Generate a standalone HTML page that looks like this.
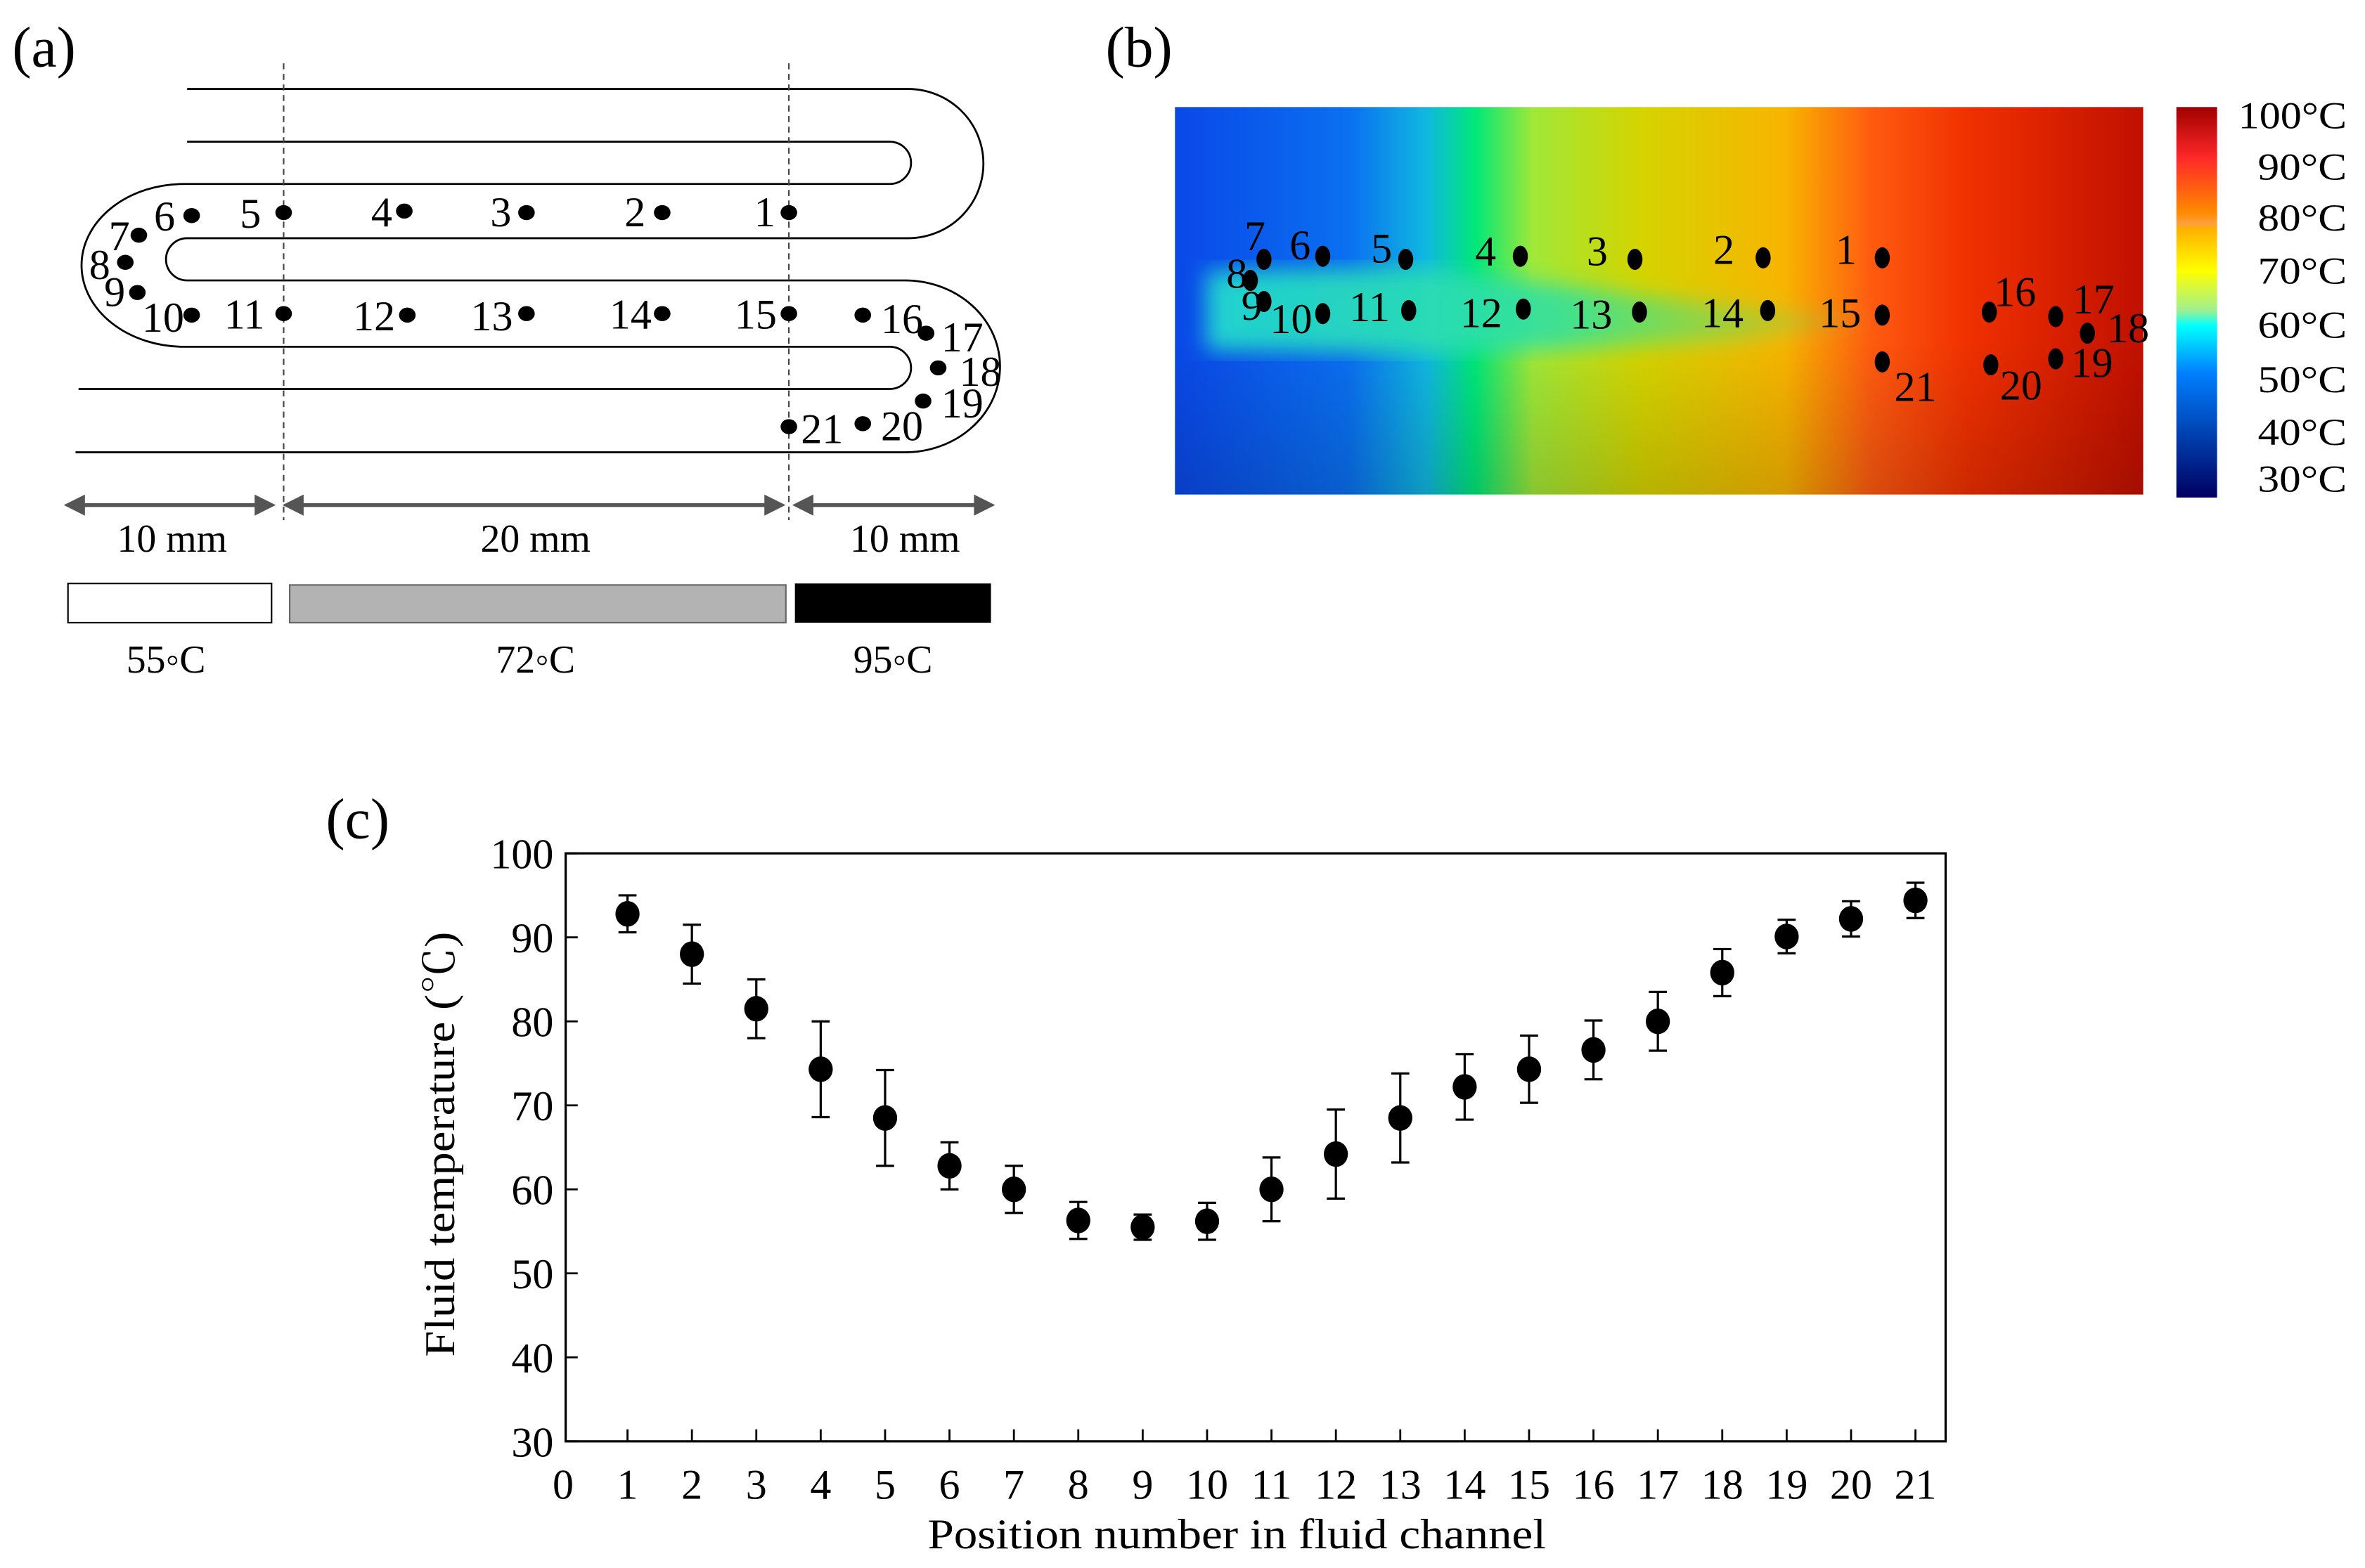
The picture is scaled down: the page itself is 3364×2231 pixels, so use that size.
<!DOCTYPE html>
<html><head><meta charset="utf-8"><style>
html,body{margin:0;padding:0;background:#fff}
svg{display:block;font-family:"Liberation Serif",serif}
</style></head><body>
<svg id="fig" width="3364" height="2231" viewBox="0 0 1568 1040" xmlns="http://www.w3.org/2000/svg">
<defs>
<linearGradient id="hx" x1="0" y1="0" x2="1" y2="0">
<stop offset="0" stop-color="#0a48e8"/><stop offset="0.18" stop-color="#0a70f0"/>
<stop offset="0.26" stop-color="#10b8e0"/><stop offset="0.31" stop-color="#00e878"/>
<stop offset="0.37" stop-color="#a0e838"/><stop offset="0.48" stop-color="#d4d400"/>
<stop offset="0.63" stop-color="#f8b400"/><stop offset="0.72" stop-color="#ff5a10"/>
<stop offset="0.82" stop-color="#f03000"/><stop offset="1" stop-color="#c01000"/>
</linearGradient>
<linearGradient id="hy" x1="0" y1="0" x2="0" y2="1">
<stop offset="0" stop-color="#000" stop-opacity="0"/><stop offset="0.6" stop-color="#000" stop-opacity="0"/>
<stop offset="1" stop-color="#000" stop-opacity="0.15"/>
</linearGradient>
<linearGradient id="band" x1="0" y1="0" x2="1" y2="0">
<stop offset="0" stop-color="#20d8d0" stop-opacity="0.95"/><stop offset="0.5" stop-color="#30e0a0" stop-opacity="0.9"/>
<stop offset="1" stop-color="#60e060" stop-opacity="0"/>
</linearGradient>
<linearGradient id="cb" x1="0" y1="0" x2="0" y2="1">
<stop offset="0" stop-color="#a00000"/><stop offset="0.13" stop-color="#ff2828"/>
<stop offset="0.27" stop-color="#ff8a00"/><stop offset="0.30" stop-color="#ffa040"/>
<stop offset="0.31" stop-color="#ffb000"/><stop offset="0.42" stop-color="#ffff00"/>
<stop offset="0.52" stop-color="#a0f090"/><stop offset="0.56" stop-color="#00ffff"/>
<stop offset="0.68" stop-color="#0080ff"/><stop offset="0.84" stop-color="#0040b0"/>
<stop offset="1" stop-color="#000060"/>
</linearGradient>
<filter id="bl"><feGaussianBlur stdDeviation="7"/></filter>
</defs>

<text x="8" y="44" font-size="38">(a)</text>
<g fill="none" stroke="#000" stroke-width="1.3">
<path d="M124 59 H602 A50 49.5 0 0 1 602 158 H124 A14 14 0 0 0 124 186 H600 A63 57 0 0 1 600 300 H50"/>
<path d="M124 94 H590 A14 14 0 0 1 590 122 H122 A68 54 0 0 0 122 230 H590 A14 14 0 0 1 590 258 H52"/>
</g>
<g stroke="#444" stroke-width="1" stroke-dasharray="4,3">
<line x1="188" y1="42" x2="188" y2="345"/><line x1="523" y1="42" x2="523" y2="345"/>
</g>
<g stroke="#555" stroke-width="2.5" fill="#555">
<line x1="50" y1="335" x2="175" y2="335"/><path d="M45 335 l10 -5 v10z M180 335 l-10 -5 v10z"/>
<line x1="195" y1="335" x2="513" y2="335"/><path d="M190 335 l10 -5 v10z M518 335 l-10 -5 v10z"/>
<line x1="533" y1="335" x2="652" y2="335"/><path d="M528 335 l10 -5 v10z M657 335 l-10 -5 v10z"/>
</g>
<g font-size="26" text-anchor="middle">
<text x="114" y="366">10 mm</text><text x="355" y="366">20 mm</text><text x="600" y="366">10 mm</text>
</g>
<rect x="45" y="387" width="135" height="26" fill="#fff" stroke="#000" stroke-width="1"/>
<rect x="192" y="388" width="329" height="25" fill="#b3b3b3" stroke="#666" stroke-width="1"/>
<rect x="527" y="387" width="130" height="26" fill="#000"/>
<g font-size="26" text-anchor="middle">
<text x="110" y="446">55◦C</text><text x="355" y="446">72◦C</text><text x="592" y="446">95◦C</text>
</g>
<g id="adots"></g>

<text x="733" y="44" font-size="38">(b)</text>
<g>
<rect x="779" y="71" width="642" height="257" fill="url(#hx)"/>
<rect x="779" y="71" width="642" height="257" fill="url(#hy)"/>
<path d="M800 180 L940 178 L1150 203 L1260 212 L1150 226 L960 234 L800 232Z" fill="url(#band)" filter="url(#bl)"/>
</g>
<g id="bdots"></g>
<rect x="1443" y="71" width="27" height="259" fill="url(#cb)"/>
<g font-size="25">
<text x="1484" y="85" textLength="72" lengthAdjust="spacingAndGlyphs">100°C</text>
<text x="1497" y="119" textLength="59" lengthAdjust="spacingAndGlyphs">90°C</text>
<text x="1497" y="153" textLength="59" lengthAdjust="spacingAndGlyphs">80°C</text>
<text x="1497" y="188" textLength="59" lengthAdjust="spacingAndGlyphs">70°C</text>
<text x="1497" y="224" textLength="59" lengthAdjust="spacingAndGlyphs">60°C</text>
<text x="1497" y="260" textLength="59" lengthAdjust="spacingAndGlyphs">50°C</text>
<text x="1497" y="295" textLength="59" lengthAdjust="spacingAndGlyphs">40°C</text>
<text x="1497" y="326" textLength="59" lengthAdjust="spacingAndGlyphs">30°C</text>
</g>

<text x="216" y="556" font-size="38">(c)</text>
<rect x="375" y="566" width="915" height="390" fill="none" stroke="#000" stroke-width="1.5"/>
<g id="axes"></g>
<g id="marks"></g>
<text x="820" y="1027" font-size="28" text-anchor="middle" textLength="410" lengthAdjust="spacingAndGlyphs">Position number in fluid channel</text>
<text transform="translate(301,759) rotate(-90)" font-size="28" text-anchor="middle" textLength="282" lengthAdjust="spacingAndGlyphs" font-family="Liberation Serif,Noto Serif CJK SC,serif">Fluid temperature (℃)</text>
</svg>
<script>
const positions=[1,2,3,4,5,6,7,8,9,10,11,12,13,14,15,16,17,18,19,20,21];
const temps=[92.8,88,81.5,74.3,68.5,62.8,60,56.3,55.5,56.2,60,64.2,68.5,72.2,74.3,76.6,80,85.8,90.1,92.2,94.4];
const errs=[2.2,3.5,3.5,5.7,5.7,2.8,2.8,2.2,1.5,2.2,3.8,5.3,5.3,3.9,4,3.5,3.5,2.8,2,2.1,2.1];
const xTicks=[0,1,2,3,4,5,6,7,8,9,10,11,12,13,14,15,16,17,18,19,20,21];
const yTicks=[30,40,50,60,70,80,90,100];
const NS="http://www.w3.org/2000/svg";
const X=v=>373.3+v*42.7, Y=v=>956-(v-30)*(390/70);
function mk(t,a,p){const e=document.createElementNS(NS,t);for(const k in a)e.setAttribute(k,a[k]);p.appendChild(e);return e;}
const ax=document.getElementById('axes');


xTicks.forEach(v=>{
 if(v>0){const l=mk('line',{x1:X(v),x2:X(v),y1:956,y2:948,stroke:'#000','stroke-width':1.3},ax);
 
 }
 const t=mk('text',{x:X(v),y:994,'font-size':28,'text-anchor':'middle'},ax);t.textContent=v;
 
 
});
yTicks.forEach(v=>{
 const l=mk('line',{x1:375,x2:383,y1:Y(v),y2:Y(v),stroke:'#000','stroke-width':1.3},ax);
 
 
 const t=mk('text',{x:367,y:Y(v)+10,'font-size':28,'text-anchor':'end'},ax);t.textContent=v;
 
 
});
const mg=document.getElementById('marks');
positions.forEach((p,i)=>{
 const x=X(p),lo=Y(temps[i]-errs[i]),hi=Y(temps[i]+errs[i]);
 const g=mk('g',{},mg);
 
 
 mk('path',{d:`M${x} ${hi}V${lo}M${x-6} ${hi}H${x+6}M${x-6} ${lo}H${x+6}`,stroke:'#000','stroke-width':1.5,fill:'none'},g);
 mk('ellipse',{cx:x,cy:Y(temps[i]),rx:8,ry:8.5,fill:'#000'},g);
});
const aPts=[[523,141,507,150],[439,141,421,150],[349,141,332,150],[268,140,253,150],[188,141,166,151],[127,143,109,153],[92,156,79,166],[83,174,66,185],[91,194,76,203],[127,209,108,220],[188,208,162,218],[270,209,248,219],[349,208,326,219],[439,208,418,218],[523,208,501,218],[572,209,598,221],[614,221,638,233],[622,244,650,256],[612,266,638,277],[572,281,598,292],[523,283,545,294]];
const ad=document.getElementById('adots');
aPts.forEach((p,i)=>{
 const c=mk('ellipse',{cx:p[0],cy:p[1],rx:5.5,ry:5,fill:'#000'},ad);
 
 
 const t=mk('text',{x:p[2],y:p[3],'font-size':28,'text-anchor':'middle'},ad);t.textContent=i+1;
 
 
});
const bPts=[[1248,171,1224,175],[1169,171,1143,175],[1084,172,1059,176],[1008,170,985,176],[932,172,916,174],[877,170,862,172],[838,172,832,166],[829,186,820,191],[838,200,830,212],[877,208,856,221],[934,206,908,213],[1010,205,982,217],[1087,207,1055,218],[1172,206,1142,217],[1248,209,1220,217],[1319,207,1336,203],[1363,210,1388,208],[1384,221,1411,227],[1363,238,1387,250],[1320,242,1340,265],[1248,240,1270,266]];
const bd=document.getElementById('bdots');
bPts.forEach((p,i)=>{
 const c=mk('ellipse',{cx:p[0],cy:p[1],rx:5,ry:7,fill:'#000'},bd);
 
 
 const t=mk('text',{x:p[2],y:p[3],'font-size':28,'text-anchor':'middle'},bd);t.textContent=i+1;
 
 
});
</script>
</body></html>
